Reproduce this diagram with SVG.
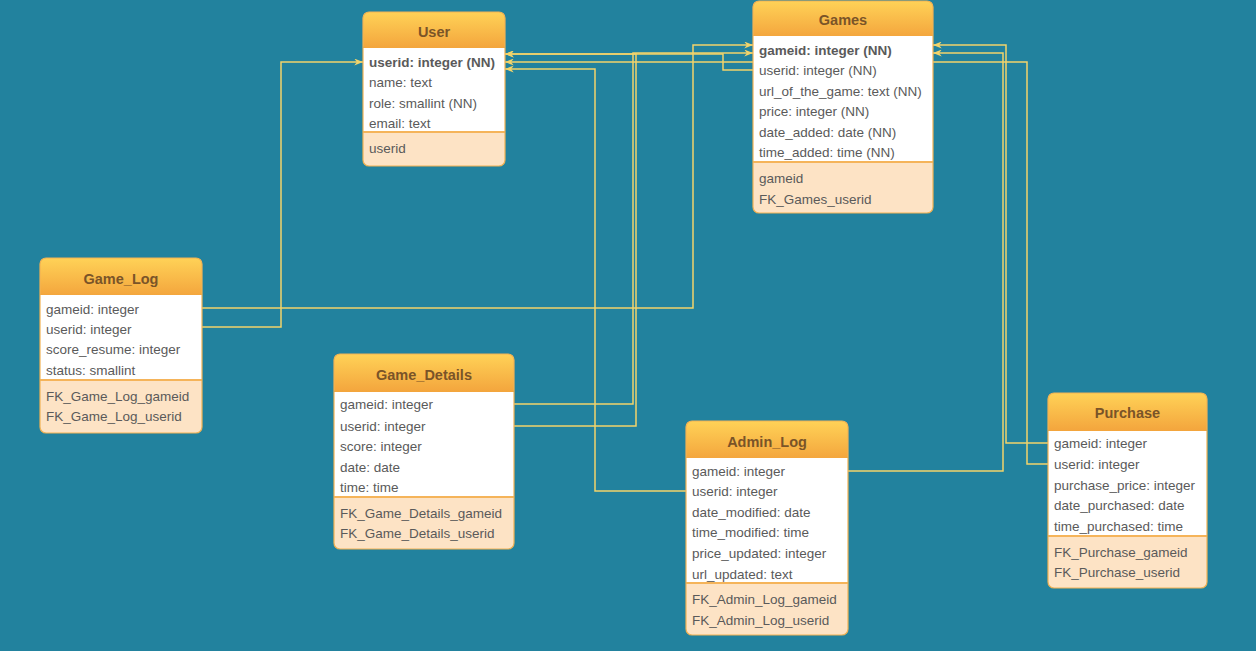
<svg xmlns="http://www.w3.org/2000/svg" width="1256" height="651" viewBox="0 0 1256 651">
<defs>
<linearGradient id="hdr" x1="0" y1="0" x2="0" y2="1">
<stop offset="0" stop-color="#FFD257"/>
<stop offset="1" stop-color="#F2A03A"/>
</linearGradient>
<marker id="arr" viewBox="0 0 10 8" refX="10" refY="4" markerWidth="9" markerHeight="7" orient="auto" markerUnits="userSpaceOnUse">
<path d="M0,0 L10,4 L0,8 L3,4 z" fill="#F2D46B"/>
</marker>
<style>
.hd{fill:url(#hdr);}
.bd{fill:#FFFFFF;}
.ft{fill:#FDE3C5;}
.ol{fill:none;stroke:#F2B254;stroke-width:1.2;}
.sep{stroke:#F5B45A;stroke-width:2;}
.tt{font-family:"Liberation Sans",Arial,sans-serif;font-size:14.5px;font-weight:bold;fill:#7A5428;text-anchor:middle;}
.fd{font-family:"Liberation Sans",Arial,sans-serif;font-size:13.5px;fill:#5A5A5A;}
.pk{font-weight:bold;}
.cn{fill:none;stroke:#F2D46B;stroke-width:1.5;marker-end:url(#arr);}
</style>
</defs>
<rect x="0" y="0" width="1256" height="651" fill="#22829E"/>

<g id="connectors">
<path class="cn" d="M202,308 H693 V45 H753"/>
<path class="cn" d="M202,327 H281 V62 H363"/>
<path class="cn" d="M514,404 H633 V53 H753"/>
<path class="cn" d="M514,426 H636 V54 H505"/>
<path class="cn" d="M753,70 H723 V54 H505"/>
<path class="cn" d="M848,471 H1003 V53 H933"/>
<path class="cn" d="M686,491 H595 V69 H505"/>
<path class="cn" d="M1048,443 H1006 V45 H933"/>
<path class="cn" d="M1048,464 H1027 V62 H505"/>
</g>

<g id="User">
<rect class="hd" x="363" y="12" width="142" height="40" rx="6"/>
<rect class="bd" x="363" y="48" width="142" height="84"/>
<path class="ft" d="M363,132 H505 V160 A6,6 0 0 1 499,166 H369 A6,6 0 0 1 363,160 Z"/>
<line class="sep" x1="363" y1="132" x2="505" y2="132"/>
<rect class="ol" x="363" y="12" width="142" height="154" rx="6"/>
<text class="tt" x="434" y="37">User</text>
<text class="fd pk" x="369" y="66.5">userid: integer (NN)</text>
<text class="fd" x="369" y="86.5">name: text</text>
<text class="fd" x="369" y="107.5">role: smallint (NN)</text>
<text class="fd" x="369" y="128">email: text</text>
<text class="fd" x="369" y="152.5">userid</text>
</g>

<g id="Games">
<rect class="hd" x="753" y="1" width="180" height="40" rx="6"/>
<rect class="bd" x="753" y="36" width="180" height="126"/>
<path class="ft" d="M753,162 H933 V207 A6,6 0 0 1 927,213 H759 A6,6 0 0 1 753,207 Z"/>
<line class="sep" x1="753" y1="162" x2="933" y2="162"/>
<rect class="ol" x="753" y="1" width="180" height="212" rx="6"/>
<text class="tt" x="843" y="25">Games</text>
<text class="fd pk" x="759" y="54.5">gameid: integer (NN)</text>
<text class="fd" x="759" y="75">userid: integer (NN)</text>
<text class="fd" x="759" y="95.5">url_of_the_game: text (NN)</text>
<text class="fd" x="759" y="116">price: integer (NN)</text>
<text class="fd" x="759" y="136.5">date_added: date (NN)</text>
<text class="fd" x="759" y="157">time_added: time (NN)</text>
<text class="fd" x="759" y="182.5">gameid</text>
<text class="fd" x="759" y="203.5">FK_Games_userid</text>
</g>

<g id="Game_Log">
<rect class="hd" x="40" y="258" width="162" height="42" rx="6"/>
<rect class="bd" x="40" y="295" width="162" height="85"/>
<path class="ft" d="M40,380 H202 V427 A6,6 0 0 1 196,433 H46 A6,6 0 0 1 40,427 Z"/>
<line class="sep" x1="40" y1="380" x2="202" y2="380"/>
<rect class="ol" x="40" y="258" width="162" height="175" rx="6"/>
<text class="tt" x="121" y="284">Game_Log</text>
<text class="fd" x="46" y="313.5">gameid: integer</text>
<text class="fd" x="46" y="333.5">userid: integer</text>
<text class="fd" x="46" y="353.5">score_resume: integer</text>
<text class="fd" x="46" y="374.5">status: smallint</text>
<text class="fd" x="46" y="400.5">FK_Game_Log_gameid</text>
<text class="fd" x="46" y="420.5">FK_Game_Log_userid</text>
</g>

<g id="Game_Details">
<rect class="hd" x="334" y="354" width="180" height="42" rx="6"/>
<rect class="bd" x="334" y="392" width="180" height="105"/>
<path class="ft" d="M334,497 H514 V543 A6,6 0 0 1 508,549 H340 A6,6 0 0 1 334,543 Z"/>
<line class="sep" x1="334" y1="497" x2="514" y2="497"/>
<rect class="ol" x="334" y="354" width="180" height="195" rx="6"/>
<text class="tt" x="424" y="380">Game_Details</text>
<text class="fd" x="340" y="408.5">gameid: integer</text>
<text class="fd" x="340" y="430.5">userid: integer</text>
<text class="fd" x="340" y="450.5">score: integer</text>
<text class="fd" x="340" y="471.5">date: date</text>
<text class="fd" x="340" y="491.5">time: time</text>
<text class="fd" x="340" y="517.5">FK_Game_Details_gameid</text>
<text class="fd" x="340" y="537.5">FK_Game_Details_userid</text>
</g>

<g id="Admin_Log">
<rect class="hd" x="686" y="421" width="162" height="42" rx="6"/>
<rect class="bd" x="686" y="458" width="162" height="125"/>
<path class="ft" d="M686,583 H848 V629 A6,6 0 0 1 842,635 H692 A6,6 0 0 1 686,629 Z"/>
<line class="sep" x1="686" y1="583" x2="848" y2="583"/>
<rect class="ol" x="686" y="421" width="162" height="214" rx="6"/>
<text class="tt" x="767" y="447">Admin_Log</text>
<text class="fd" x="692" y="475.5">gameid: integer</text>
<text class="fd" x="692" y="495.5">userid: integer</text>
<text class="fd" x="692" y="516.5">date_modified: date</text>
<text class="fd" x="692" y="536.5">time_modified: time</text>
<text class="fd" x="692" y="557.5">price_updated: integer</text>
<text class="fd" x="692" y="578.5">url_updated: text</text>
<text class="fd" x="692" y="603.5">FK_Admin_Log_gameid</text>
<text class="fd" x="692" y="624.5">FK_Admin_Log_userid</text>
</g>

<g id="Purchase">
<rect class="hd" x="1048" y="393" width="159" height="42" rx="6"/>
<rect class="bd" x="1048" y="431" width="159" height="105"/>
<path class="ft" d="M1048,536 H1207 V582 A6,6 0 0 1 1201,588 H1054 A6,6 0 0 1 1048,582 Z"/>
<line class="sep" x1="1048" y1="536" x2="1207" y2="536"/>
<rect class="ol" x="1048" y="393" width="159" height="195" rx="6"/>
<text class="tt" x="1127.5" y="418">Purchase</text>
<text class="fd" x="1054" y="447.5">gameid: integer</text>
<text class="fd" x="1054" y="468.5">userid: integer</text>
<text class="fd" x="1054" y="489.5">purchase_price: integer</text>
<text class="fd" x="1054" y="509.5">date_purchased: date</text>
<text class="fd" x="1054" y="530.5">time_purchased: time</text>
<text class="fd" x="1054" y="556.5">FK_Purchase_gameid</text>
<text class="fd" x="1054" y="576.5">FK_Purchase_userid</text>
</g>
</svg>
